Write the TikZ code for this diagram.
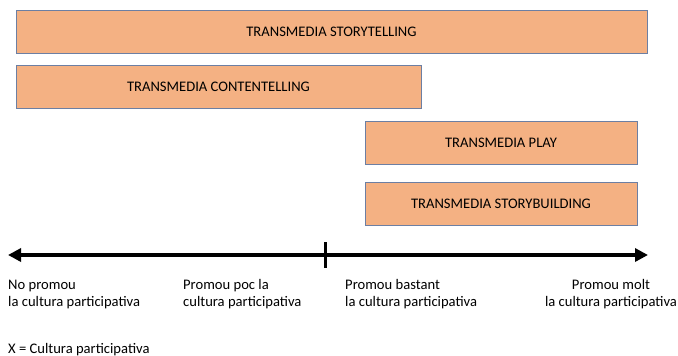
\documentclass[tikz,border=0pt]{standalone}
\usepackage{fontspec}
\setmainfont{Carlito}
\usepackage{tikz}
\usetikzlibrary{arrows.meta}
\definecolor{barfill}{HTML}{F4B183}
\definecolor{barline}{HTML}{6C7FA3}

\begin{document}
\begin{tikzpicture}[x=1pt,y=-1pt,>={Triangle[length=13pt,width=13pt]},
                    font=\fontsize{14.6}{17}\selectfont]
  \tikzstyle{bar}=[rectangle,draw=barline,fill=barfill,line width=0.8pt,
                   inner sep=0pt,minimum height=43pt,text=black]
  \tikzstyle{scale label}=[align=left,inner sep=0pt,anchor=base west]

  \useasboundingbox (0,0) rectangle (678,356);

  \node[bar,minimum width=631pt] (storytelling)  at (331.5,31.5) {TRANSMEDIA STORYTELLING};
  \node[bar,minimum width=405pt] (contentelling) at (218.5,87)   {TRANSMEDIA CONTENTELLING};
  \node[bar,minimum width=272pt] (play)          at (501,142.5)  {TRANSMEDIA PLAY};
  \node[bar,minimum width=272pt] (storybuilding) at (501,203.5)  {TRANSMEDIA STORYBUILDING};

  \coordinate (left)  at (8,255);
  \coordinate (right) at (648,255);
  \coordinate (tick top) at (325,242);
  \coordinate (tick bot) at (325,268);
  \draw[<->,line width=4pt] (left) -- (right);
  \draw[line width=3pt] (tick top) -- (tick bot);

  \node[scale label] (none)   at (8,306)   {No promou\\la cultura participativa};
  \node[scale label] (little) at (183,306) {Promou poc la\\cultura participativa};
  \node[scale label] (quite)  at (345,306) {Promou bastant\\la cultura participativa};
  \node[align=center,inner sep=0pt,anchor=base] (much) at (611,306) {Promou molt\\la cultura participativa};

  \node[scale label] (legend) at (8,353) {X = Cultura participativa};
\end{tikzpicture}
\end{document}
